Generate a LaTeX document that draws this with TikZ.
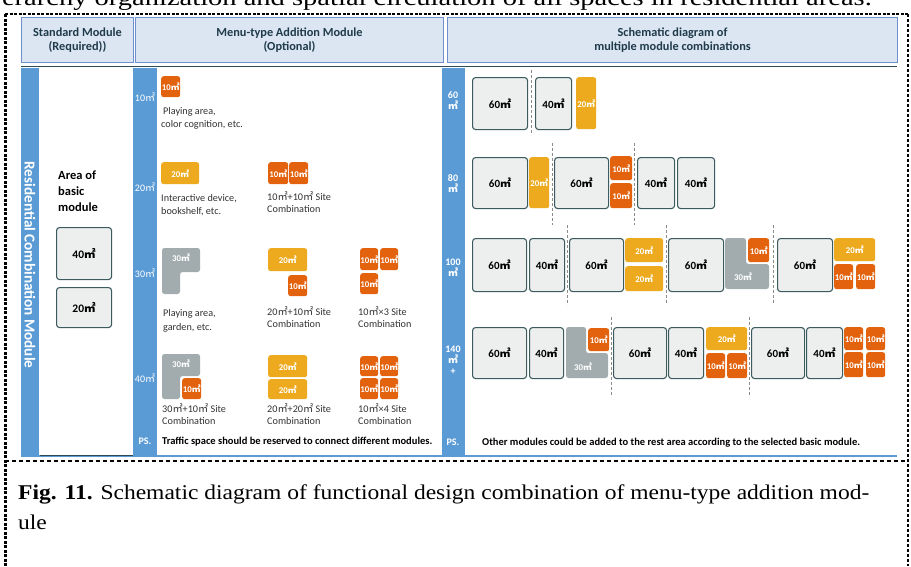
\documentclass[tikz,border=0pt]{standalone}
\usepackage{fontspec}
\setmainfont{Carlito}
\newfontfamily\serifcap{Liberation Serif}
\newfontfamily\cjkf{Noto Sans CJK KR}
\newcommand\sqm{{\cjkf ㎡}}
\newcommand\fsz[1]{\fontsize{#1}{#1}\selectfont}
\definecolor{hdrF}{HTML}{DCE6F3}
\definecolor{hdrB}{HTML}{6E8FCB}
\definecolor{barB}{HTML}{5B9BD5}
\definecolor{orgC}{HTML}{E2620E}
\definecolor{yelC}{HTML}{EDAA1F}
\definecolor{gryC}{HTML}{A2ACAF}
\definecolor{modF}{HTML}{EDEFEF}
\definecolor{modB}{HTML}{3C5B5F}
\definecolor{sepC}{HTML}{8A8A8A}
\definecolor{darkL}{HTML}{2E4A56}
\definecolor{txtC}{HTML}{333333}
\definecolor{hdrT}{HTML}{1F3A4A}
\newcommand\rbox[7]{\node[#1, anchor=north west, inner sep=0pt, minimum width={(#4)-(#2)}, minimum height={(#5)-(#3)}] (#6) at (#2,#3) {#7};}
\begin{document}
\begin{tikzpicture}[x=1pt,y=-1pt,
  hdr/.style={draw=hdrB, fill=hdrF, line width=1pt, align=center, text=hdrT, font=\bfseries\fontsize{12.3}{14}\selectfont},
  bar/.style={fill=barB, draw=none},
  modbox/.style={draw=modB, fill=modF, line width=1.1pt, rounded corners=3pt, font=\bfseries\fsz{11}, text=black},
  org/.style={fill=orgC, rounded corners=2.5pt, text=white, font=\bfseries\fsz{8.8}},
  yel/.style={fill=yelC, rounded corners=2.5pt, text=white, font=\bfseries\fsz{8.8}},
  gry/.style={fill=gryC, rounded corners=2.5pt},
  glab/.style={text=white, font=\bfseries\fsz{8.8}, inner sep=0pt},
  sepline/.style={draw=sepC, line width=0.8pt, dash pattern=on 3pt off 2pt},
  desc/.style={anchor=base west, inner sep=0pt, font=\fsz{10.2}, text=txtC},
  barlab/.style={text=white, font=\fsz{10}, inner sep=0pt},
  barlabb/.style={text=white, font=\bfseries\fontsize{10}{11}\selectfont, inner sep=0pt, align=center},
  psnote/.style={anchor=base west, inner sep=0pt, font=\bfseries\fsz{10.5}, text=black},
]
\useasboundingbox (0,0) rectangle (911,566);
\clip (0,0) rectangle (911,566);

% cut-off text above the frame
\node[anchor=base east, inner sep=0pt, font=\serifcap\fsz{23}] (toptext) at (872,5) {\scalebox{1.24}[1]{erarchy organization and spatial circulation of all spaces in residential areas.}};

% outer dashed frame
\coordinate (fTL) at (5,14);
\coordinate (fTR) at (908,14);
\coordinate (fBL) at (5,566);
\coordinate (fBR) at (908,566);
\coordinate (sL) at (5,461);
\coordinate (sR) at (908,461);
\draw[line width=2pt, dash pattern=on 3pt off 1.5pt] (fTL) -- (fTR);
\draw[line width=3pt, dash pattern=on 3pt off 1.5pt] (fTL) -- (fBL);
\draw[line width=1.5pt, dash pattern=on 3pt off 2pt] (fTR) -- (fBR);
\draw[line width=1.2pt, dash pattern=on 4pt off 3pt] (sL) -- (sR);

% headers
\rbox{hdr}{21}{17}{133}{62}{h1}{Standard Module\\(Required))}
\rbox{hdr}{135}{17}{443}{62}{h2}{Menu-type Addition Module\\(Optional)}
\rbox{hdr}{447}{17}{897}{62}{h3}{Schematic diagram of\\multiple module combinations}
\coordinate (dl1) at (21,66.5);
\coordinate (dl2) at (897,66.5);
\draw[darkL, line width=1.5pt] (dl1) -- (dl2);

% bars and panels
\fill[barB] (21,68) rectangle (39,456);
\fill[white] (39,68) rectangle (133,456);
\fill[barB] (133,68) rectangle (157,456);
\fill[white] (157,68) rectangle (442,456);
\fill[barB] (442,68) rectangle (465,456);
\fill[white] (465,68) rectangle (897,456);
\coordinate (bl1) at (21,456);
\coordinate (bl2) at (897,456);
\draw[barB, line width=1.2pt] (bl1) -- (bl2);
\coordinate (wl1) at (40,455.5);
\coordinate (wl2) at (133,455.5);
\draw[darkL, line width=0.8pt] (wl1) -- (wl2);

% left column
\node[rotate=-90, text=white, font=\bfseries\fsz{15.2}, inner sep=0pt] (rcm) at (30,265) {Residential Combination Module};
\node[anchor=base west, inner sep=0pt, font=\bfseries\fsz{12.5}] (ab1) at (58,179) {Area of};
\node[anchor=base west, inner sep=0pt, font=\bfseries\fsz{12.5}] (ab2) at (58,195) {basic};
\node[anchor=base west, inner sep=0pt, font=\bfseries\fsz{12.5}] (ab3) at (58,211) {module};
\rbox{modbox, font=\bfseries\fsz{11.5}}{56}{227}{111}{279}{b40}{40\sqm}
\rbox{modbox, font=\bfseries\fsz{11.5}}{56}{287}{111}{327}{b20}{20\sqm}

% middle column bar labels
\node[barlab] (ml10) at (145,97) {10\sqm};
\node[barlab] (ml20) at (145,187) {20\sqm};
\node[barlab] (ml30) at (145,273) {30\sqm};
\node[barlab] (ml40) at (145,378) {40\sqm};
\node[barlabb] (mlps) at (145,441) {PS.};

% row 10
\rbox{org}{161}{76}{180}{97}{m10}{10\sqm}
\node[desc] (d1a) at (163,114) {Playing area,};
\node[desc] (d1b) at (161,127) {color cognition, etc.};

% row 20
\rbox{yel}{161}{162}{199}{184}{m20}{20\sqm}
\rbox{org}{268}{162}{288}{184}{m20a}{10\sqm}
\rbox{org}{289}{162}{308}{184}{m20b}{10\sqm}
\node[desc] (d2a) at (161,201) {Interactive device,};
\node[desc] (d2b) at (161,214) {bookshelf, etc.};
\node[desc] (d2c) at (267,200) {10\sqm+10\sqm\ Site};
\node[desc] (d2d) at (267,212) {Combination};

% row 30
\fill[gryC, rounded corners=2.5pt] (162,248) -- (200,248) -- (200,272) -- (180,272) -- (180,294) -- (162,294) -- cycle;
\node[glab] (m30) at (181,258) {30\sqm};
\rbox{yel}{268}{248}{307}{271}{m30a}{20\sqm}
\rbox{org}{288}{275}{307}{296}{m30b}{10\sqm}
\rbox{org}{360}{248}{378}{270}{m30c}{10\sqm}
\rbox{org}{380}{248}{398}{270}{m30d}{10\sqm}
\rbox{org}{360}{273}{378}{294}{m30e}{10\sqm}
\node[desc] (d3a) at (163,316) {Playing area,};
\node[desc] (d3b) at (163,330) {garden, etc.};
\node[desc] (d3c) at (267,315) {20\sqm+10\sqm\ Site};
\node[desc] (d3d) at (267,327) {Combination};
\node[desc] (d3e) at (358,315) {10\sqm×3 Site};
\node[desc] (d3f) at (358,327) {Combination};

% row 40
\fill[gryC, rounded corners=2.5pt] (162,354) -- (200,354) -- (200,376) -- (180,376) -- (180,399) -- (162,399) -- cycle;
\node[glab] (m40g) at (181,364) {30\sqm};
\rbox{org}{182}{378}{201}{399}{m40a}{10\sqm}
\rbox{yel}{268}{355}{307}{377}{m40b}{20\sqm}
\rbox{yel}{268}{379}{307}{399}{m40c}{20\sqm}
\rbox{org}{360}{356}{378}{376}{m40d}{10\sqm}
\rbox{org}{380}{356}{398}{376}{m40e}{10\sqm}
\rbox{org}{360}{378}{378}{399}{m40f}{10\sqm}
\rbox{org}{380}{378}{398}{399}{m40g2}{10\sqm}
\node[desc] (d4a) at (162,412) {30\sqm+10\sqm\ Site};
\node[desc] (d4b) at (162,424) {Combination};
\node[desc] (d4c) at (267,412) {20\sqm+20\sqm\ Site};
\node[desc] (d4d) at (267,424) {Combination};
\node[desc] (d4e) at (358,412) {10\sqm×4 Site};
\node[desc] (d4f) at (358,424) {Combination};
\node[psnote] (ps1) at (162,444) {Traffic space should be reserved to connect different modules.};

% right column bar labels
\node[barlabb] (rl60) at (453,101) {60\\\sqm};
\node[barlabb] (rl80) at (453,184) {80\\\sqm};
\node[barlabb] (rl100) at (453,268) {100\\\sqm};
\node[barlabb] (rl140) at (453,360) {140\\\sqm\\+};
\node[barlabb] (rlps) at (453,442) {PS.};

% row 60
\rbox{modbox}{472}{77}{527}{129}{r6a}{60\sqm}
\rbox{modbox}{535}{77}{571}{129}{r6b}{40\sqm}
\rbox{yel}{576}{77}{596}{129}{r6c}{20\sqm}
\coordinate (s6t) at (531,70); \coordinate (s6b) at (531,135);
\draw[sepline] (s6t) -- (s6b);

% row 80
\rbox{modbox}{472}{157}{527}{208}{r8a}{60\sqm}
\rbox{yel}{529}{157}{549}{208}{r8b}{20\sqm}
\rbox{modbox}{554}{157}{608}{208}{r8c}{60\sqm}
\rbox{org}{610}{156}{632}{180}{r8d}{10\sqm}
\rbox{org}{610}{183}{632}{208}{r8e}{10\sqm}
\rbox{modbox}{637}{157}{674}{208}{r8f}{40\sqm}
\rbox{modbox}{677}{157}{714}{208}{r8g}{40\sqm}
\coordinate (s8at) at (552,143); \coordinate (s8ab) at (552,225);
\coordinate (s8bt) at (634,143); \coordinate (s8bb) at (634,225);
\draw[sepline] (s8at) -- (s8ab);
\draw[sepline] (s8bt) -- (s8bb);

% row 100
\rbox{modbox}{472}{238}{526}{291}{r1a}{60\sqm}
\rbox{modbox}{529}{238}{564}{291}{r1b}{40\sqm}
\rbox{modbox}{569}{238}{623}{291}{r1c}{60\sqm}
\rbox{yel}{625}{238}{663}{262}{r1d}{20\sqm}
\rbox{yel}{625}{266}{663}{291}{r1e}{20\sqm}
\rbox{modbox}{668}{238}{723}{291}{r1f}{60\sqm}
\fill[gryC, rounded corners=2.5pt] (725,238) -- (746,238) -- (746,264) -- (769,264) -- (769,289) -- (725,289) -- cycle;
\node[glab] (r1g) at (743,277) {30\sqm};
\rbox{org}{748}{238}{769}{262}{r1h}{10\sqm}
\rbox{modbox}{777}{238}{832}{291}{r1i}{60\sqm}
\rbox{yel}{834}{238}{875}{261}{r1j}{20\sqm}
\rbox{org}{834}{264}{853}{289}{r1k}{10\sqm}
\rbox{org}{856}{264}{875}{289}{r1l}{10\sqm}
\coordinate (s1at) at (567,225); \coordinate (s1ab) at (567,305);
\coordinate (s1bt) at (666,225); \coordinate (s1bb) at (666,305);
\coordinate (s1ct) at (773,225); \coordinate (s1cb) at (773,305);
\draw[sepline] (s1at) -- (s1ab);
\draw[sepline] (s1bt) -- (s1bb);
\draw[sepline] (s1ct) -- (s1cb);

% row 140
\rbox{modbox}{472}{327}{526}{378}{r4a}{60\sqm}
\rbox{modbox}{529}{327}{563}{378}{r4b}{40\sqm}
\fill[gryC, rounded corners=2.5pt] (566,327) -- (586,327) -- (586,353) -- (608,353) -- (608,378) -- (566,378) -- cycle;
\node[glab] (r4c) at (583,367) {30\sqm};
\rbox{org}{588}{328}{609}{351}{r4d}{10\sqm}
\rbox{modbox}{613}{327}{666}{378}{r4e}{60\sqm}
\rbox{modbox}{668}{327}{703}{378}{r4f}{40\sqm}
\rbox{yel}{706}{327}{747}{350}{r4g}{20\sqm}
\rbox{org}{706}{353}{725}{378}{r4h}{10\sqm}
\rbox{org}{727}{353}{747}{378}{r4i}{10\sqm}
\rbox{modbox}{751}{327}{804}{378}{r4j}{60\sqm}
\rbox{modbox}{806}{327}{842}{378}{r4k}{40\sqm}
\rbox{org}{844}{327}{863}{350}{r4l}{10\sqm}
\rbox{org}{866}{327}{885}{350}{r4m}{10\sqm}
\rbox{org}{844}{352}{863}{377}{r4n}{10\sqm}
\rbox{org}{866}{352}{885}{377}{r4o}{10\sqm}
\coordinate (s4at) at (611,317); \coordinate (s4ab) at (611,397);
\coordinate (s4bt) at (749,317); \coordinate (s4bb) at (749,397);
\draw[sepline] (s4at) -- (s4ab);
\draw[sepline] (s4bt) -- (s4bb);

\node[psnote] (ps2) at (482,445) {Other modules could be added to the rest area according to the selected basic module.};

% caption
\node[anchor=base west, inner sep=0pt, font=\serifcap\fsz{21}] (cap1) at (18,499) {\scalebox{1.12}[1]{\textbf{Fig. 11.} Schematic diagram of functional design combination of menu-type addition mod-}};
\node[anchor=base west, inner sep=0pt, font=\serifcap\fsz{21}] (cap2) at (18,529) {\scalebox{1.12}[1]{ule}};
\end{tikzpicture}
\end{document}
